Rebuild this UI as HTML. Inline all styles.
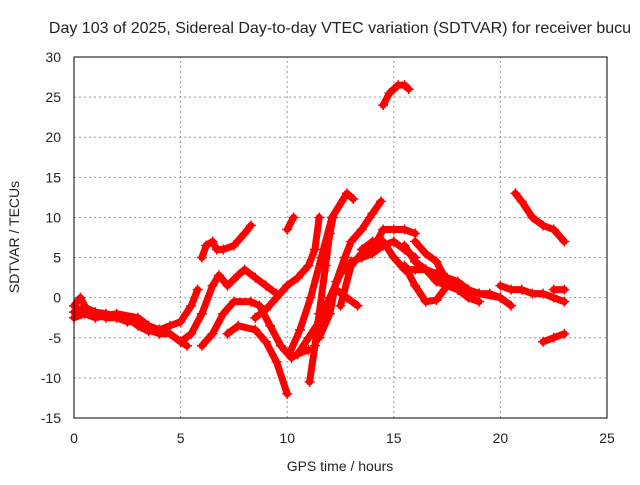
<!DOCTYPE html>
<html><head><meta charset="utf-8"><style>
html,body{margin:0;padding:0;background:#fff}
svg text{font-family:"Liberation Sans",sans-serif;fill:#222}
</style></head><body>
<svg id="chart" width="640" height="480" viewBox="0 0 640 480" xmlns="http://www.w3.org/2000/svg">
<rect width="640" height="480" fill="#fff"/>
<text x="340" y="33" font-size="16" text-anchor="middle">Day 103 of 2025, Sidereal Day-to-day VTEC variation (SDTVAR) for receiver bucu</text>
<g id="grid"></g>
<g id="ticks"></g>
<g id="series"></g>
<rect x="74" y="57" width="533" height="361" fill="none" stroke="#000" stroke-width="1"/>
<text x="340" y="471" font-size="14" text-anchor="middle">GPS time / hours</text>
<text x="0" y="0" font-size="14" text-anchor="middle" transform="translate(19,237) rotate(-90)">SDTVAR / TECUs</text>
</svg>
<script>
const xTicks=[0,5,10,15,20,25];
const yTicks=[-15,-10,-5,0,5,10,15,20,25,30];
const s1=[[0,-1],[0.3,0],[0.6,-1.5],[1,-2],[1.5,-2.5],[2,-2.5],[2.5,-3],[3,-3],[3.5,-4],[4,-4.5],[4.5,-4.5],[5,-5.5],[5.3,-6]];
const s1b=[[0,-2.5],[0.5,-2],[1,-2.5],[2,-2],[3,-2.5],[3.5,-3.5],[4,-4],[4.5,-3.5],[5,-3],[5.5,-1],[5.8,1]];
const s1c=[[0,-1.8],[0.5,-1.2],[1,-1.8],[1.5,-2],[2,-2.3],[2.5,-2.5],[3,-3.5],[3.5,-4.2],[4,-4]];
const s2=[[5,-5.5],[5.5,-4.5],[6,-2],[6.5,1.5],[6.8,2.8],[7.2,1.5],[7.7,2.8],[8,3.5],[8.5,2.5],[9,1.5],[9.5,0.5]];
const s3=[[6,-6],[6.5,-4.5],[7,-2],[7.5,-0.5],[8.3,-0.5],[8.7,-1],[9.2,-3.5],[9.7,-6],[10.2,-7.5],[10.5,-7],[11,-6.5]];
const s4=[[7.2,-4.5],[7.7,-3.5],[8.5,-4],[9,-5.5],[9.5,-8],[10,-12]];
const s4b=[[8.5,-2.5],[9,-1.5],[9.5,0],[10,1.5],[10.5,2.5],[11,4],[11.3,6],[11.5,10]];
const s7=[[10.5,-7],[11,-5],[11.5,-3],[12,0],[12.5,3],[13,4.5],[13.5,5],[14,5.5],[14.5,6.5],[15,7],[15.5,6],[16,5]];
const s8=[[11.05,-10.5],[11.3,-6],[11.5,-2],[11.8,4],[12,8],[12.15,10]];
const s8b=[[10.1,-7],[10.6,-4],[11.1,0],[11.6,5],[12.1,10],[12.8,13],[13.1,12.3]];
const s9=[[11.5,-5],[12,-2],[12.3,2],[12.7,5],[13,7],[13.5,8.5],[14,10.5],[14.4,12]];
const s10=[[12.5,-1],[13,4],[13.5,5.5],[14,6],[14.5,8.5],[15,8.5],[15.5,8.5],[16,8]];
const s11=[[12.3,1],[12.8,0],[13.3,-1]];
const s12=[[13.5,6],[14,7],[14.5,7],[15,5],[15.5,3.5],[16,3.5],[16.5,3.5],[17,3],[17.5,1.5],[18,1],[18.5,0.5]];
const s13=[[15.5,6.5],[16,4.5],[16.5,3.5],[17,2],[17.5,1.5],[18,1],[19,0.5],[20,0],[20.5,-1]];
const s14=[[16,7],[16.5,5.5],[17,4.5],[17.5,2],[18,1],[18.5,0],[19,-0.5]];
const s14b=[[15.5,4],[16,1.5],[16.5,-0.5],[17,-0.3],[17.5,1.5]];
const s15=[[17.5,2.5],[18,2],[18.5,1],[19,0.5],[19.5,0.5],[20,0]];
const s16=[[20,1.5],[20.5,1],[21,1],[21.5,0.5],[22,0.5],[22.5,0],[23,-0.5]];
const s17=[[22.5,1],[23,1]];
const s18=[[22,-5.5],[22.5,-5],[23,-4.5]];
const s19=[[20.7,13],[21,12],[21.5,10],[22,9],[22.5,8.5],[23,7]];
const s20=[[14.5,24],[14.8,25.5],[15.2,26.5],[15.5,26.5],[15.7,26]];
const s21=[[6,5],[6.2,6.5],[6.5,7],[6.7,6],[7,6],[7.5,6.5],[8,8],[8.3,9]];
const s22=[[10,8.5],[10.3,10]];
const allSeries=[s1,s1b,s1c,s2,s3,s4,s4b,s7,s8,s8b,s9,s10,s11,s12,s13,s14,s14b,s15,s16,s17,s18,s19,s20,s21,s22];

const X0=74,X1=607,Y0=418,Y1=57;
function xs(v){return X0+(v-0)/(25-0)*(X1-X0);}
function ys(v){return Y0-(v+15)/(45)*(Y0-Y1);}
const NS='http://www.w3.org/2000/svg';
const grid=document.getElementById('grid'),ticks=document.getElementById('ticks'),ser=document.getElementById('series');
function mk(t,a,p){const e=document.createElementNS(NS,t);for(const k in a)e.setAttribute(k,a[k]);p.appendChild(e);return e;}
xTicks.forEach(t=>{
  const x=xs(t);
  if(t>0&&t<25){const g=mk('line',{x1:x,x2:x,y1:Y0,y2:Y1,stroke:'#999','stroke-dasharray':'2,3'},grid);
  
  }
  const l=mk('text',{x:x,y:443,'font-size':14,'text-anchor':'middle'},ticks);l.textContent=t;
  
  
});
yTicks.forEach(t=>{
  const y=ys(t);
  if(t>-15&&t<30){const g=mk('line',{x1:X0,x2:X1,y1:y,y2:y,stroke:'#999','stroke-dasharray':'2,3'},grid);
  
  }
  const l=mk('text',{x:61,y:y+5,'font-size':14,'text-anchor':'end'},ticks);l.textContent=t;
  
  
});
allSeries.forEach((s,i)=>{
  const g=mk('g',{},ser);
  
  
  mk('polyline',{points:s.map(p=>xs(p[0])+','+ys(p[1])).join(' '),fill:'none',stroke:'#f00','stroke-width':7,'stroke-linejoin':'round','stroke-linecap':'round'},g);
  s.forEach(p=>{
    const x=xs(p[0]),y=ys(p[1]);
    const m=mk('path',{d:`M${x-5},${y}H${x+5}M${x},${y-5}V${y+5}`,stroke:'#f00','stroke-width':1.5},g);
    
    
  });
});
</script>
</body></html>
